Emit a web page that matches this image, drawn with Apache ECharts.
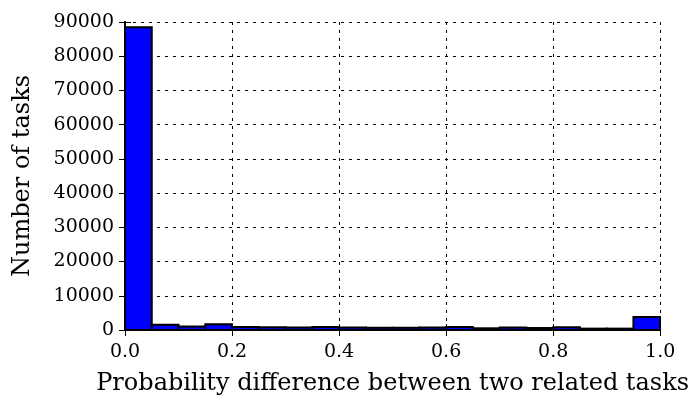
<!DOCTYPE html>
<html><head><meta charset="utf-8">
<script src="https://cdn.jsdelivr.net/npm/echarts@6/dist/echarts.min.js"></script>
<style>html,body{margin:0;padding:0;background:#fff}#c{width:692px;height:401px}</style>
</head><body><div id="c"></div>
<script>
var binStarts = [0.00,0.05,0.10,0.15,0.20,0.25,0.30,0.35,0.40,0.45,0.50,0.55,0.60,0.65,0.70,0.75,0.80,0.85,0.90,0.95];
var binWidth = 0.05;
var counts = [88500,1500,1000,1700,900,800,700,900,700,650,650,700,900,500,700,600,800,400,400,3800];
var yTicks = [0,10000,20000,30000,40000,50000,60000,70000,80000,90000];
var xTicks = [0.0,0.2,0.4,0.6,0.8,1.0];

var FONT = 'DejaVu Serif';
var data = binStarts.map(function(s,i){return [s, s+binWidth, counts[i]];});
var chart = echarts.init(document.getElementById('c'));
var tickStyle = {show:true, inside:true, length:6, lineStyle:{color:'#000', width:1}};
chart.setOption({
  animation:false,
  grid:{left:125, top:22, width:538, height:308, show:false},
  xAxis:[{
    type:'value', min:xTicks[0], max:xTicks[xTicks.length-1], interval:0.2,
    axisLine:{show:true, onZero:false, lineStyle:{color:'#000', width:2}},
    axisTick:tickStyle,
    axisLabel:{color:'#000', fontFamily:FONT, fontSize:19, margin:13,
      formatter:function(v){return v.toFixed(1);}},
    splitLine:{show:true, lineStyle:{color:'#000', type:[3,5], width:1}},
    name:'Probability difference between two related tasks',
    nameLocation:'middle', nameGap:42,
    nameTextStyle:{color:'#000', fontFamily:FONT, fontSize:24}
  },{
    type:'value', min:0, max:1, interval:0.2, position:'top',
    axisLine:{show:true, lineStyle:{color:'#000', width:2}},
    axisTick:tickStyle, axisLabel:{show:false}, splitLine:{show:false}
  }],
  yAxis:[{
    type:'value', min:yTicks[0], max:yTicks[yTicks.length-1], interval:10000,
    axisLine:{show:true, onZero:false, lineStyle:{color:'#000', width:2}},
    axisTick:tickStyle,
    axisLabel:{color:'#000', fontFamily:FONT, fontSize:19, margin:11,
      formatter:function(v){return String(v);}},
    splitLine:{show:true, lineStyle:{color:'#000', type:[3,5], width:1}},
    name:'Number of tasks', nameLocation:'middle', nameGap:90,
    nameTextStyle:{color:'#000', fontFamily:FONT, fontSize:24}
  },{
    type:'value', min:0, max:90000, interval:10000, position:'right',
    axisLine:{show:true, lineStyle:{color:'#000', width:2}},
    axisTick:tickStyle, axisLabel:{show:false}, splitLine:{show:false}
  }],
  series:[{
    type:'custom',
    xAxisIndex:0, yAxisIndex:0,
    clip:true,
    data:data,
    encode:{x:[0,1], y:2},
    renderItem:function(params, api){
      var p0 = api.coord([api.value(0), api.value(2)]);
      var p1 = api.coord([api.value(1), 0]);
      return {
        type:'rect',
        shape:{x:p0[0], y:p0[1], width:p1[0]-p0[0], height:p1[1]-p0[1]},
        style:{fill:'#0000ff', stroke:'#000', lineWidth:2}
      };
    }
  }]
});
</script>
</body></html>
